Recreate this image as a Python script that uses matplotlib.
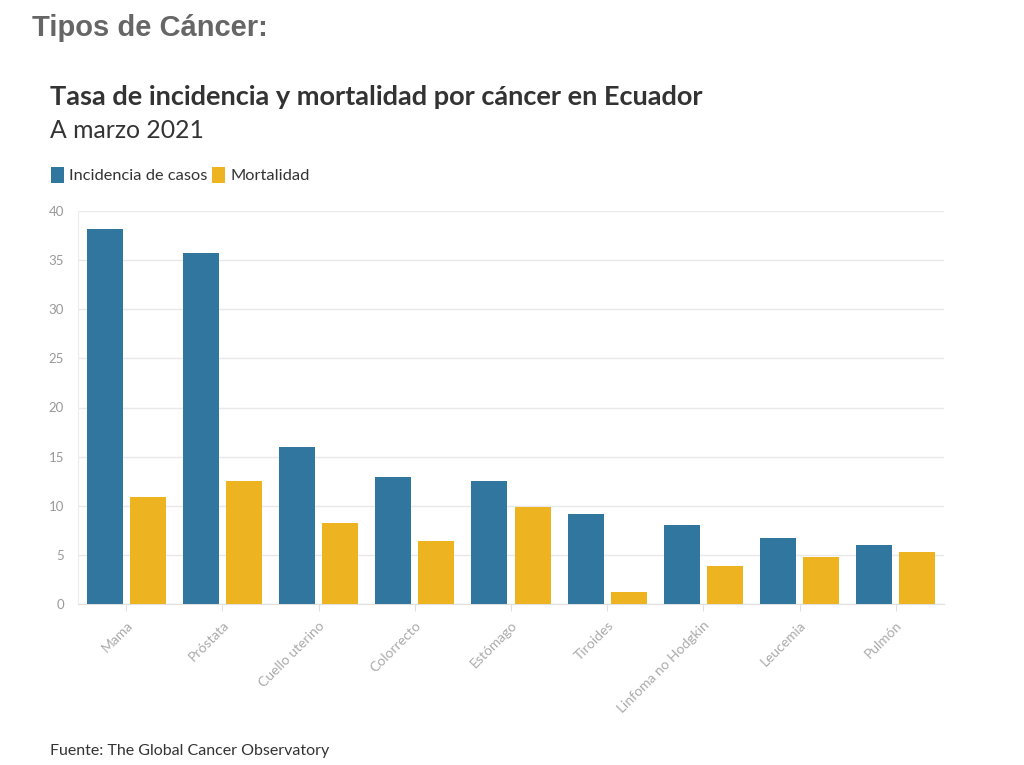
import matplotlib
matplotlib.use("Agg")
import matplotlib.pyplot as plt
import numpy as np

categories = ["Mama", "Próstata", "Cuello uterino", "Colorrecto", "Estómago",
              "Tiroides", "Linfoma no Hodgkin", "Leucemia", "Pulmón"]
incidencia = [38.2, 35.7, 16.0, 12.9, 12.5, 9.2, 8.0, 6.7, 6.0]
mortalidad = [10.9, 12.5, 8.2, 6.4, 9.9, 1.2, 3.9, 4.8, 5.3]
yticks = [0, 5, 10, 15, 20, 25, 30, 35, 40]

BLUE = "#30769F"
YELLOW = "#EDB320"
FONT = "Lato"

fig = plt.figure(figsize=(10.24, 7.65), dpi=100)
W, H = 1024, 765
ax = fig.add_axes([78 / W, 1 - 604 / H, (944 - 78) / W, (604 - 211) / H])

x = np.arange(len(categories))
bw = 0.375
off = 0.224
b1 = ax.bar(x - off, incidencia, bw, color=BLUE, label="Incidencia de casos", zorder=3)
b2 = ax.bar(x + off, mortalidad, bw, color=YELLOW, label="Mortalidad", zorder=3)

ax.set_xlim(-0.5, len(categories) - 0.5)
ax.set_ylim(0, 40)
ax.set_yticks(yticks)
ax.set_yticklabels([str(v) for v in yticks], fontfamily=FONT, fontsize=9.5, color="#999999")
ax.grid(axis="y", color="#e8e8e8", linewidth=1, zorder=0)
ax.set_xticks(x)
ax.set_xticklabels(categories, rotation=45, ha="right", rotation_mode="anchor",
                   fontfamily=FONT, fontsize=10, color="#aaaaaa")
ax.tick_params(axis="x", length=5, color="#e0e0e0", pad=6)
ax.tick_params(axis="y", length=0, pad=10)
for s in ["top", "right"]:
    ax.spines[s].set_visible(False)
ax.spines["left"].set_color("#ececec")
ax.spines["bottom"].set_color("#e0e0e0")

fig.text(32 / W, 1 - 28 / H, "Tipos de Cáncer:", fontfamily="Liberation Sans",
         fontweight="bold", fontsize=21, color="#666666", va="center", ha="left")
fig.text(50 / W, 1 - 97 / H, "Tasa de incidencia y mortalidad por cáncer en Ecuador",
         fontfamily=FONT, fontweight="bold", fontsize=19.5, color="#333333", va="center", ha="left")
fig.text(50 / W, 1 - 130 / H, "A marzo 2021", fontfamily=FONT, fontsize=17.8,
         color="#333333", va="center", ha="left")
fig.text(50 / W, 1 - 751 / H, "Fuente: The Global Cancer Observatory", fontfamily=FONT,
         fontsize=11.5, color="#333333", va="center", ha="left")

leg = fig.legend(handles=[b1, b2], loc="center left", bbox_to_anchor=(36 / W, 1 - 175 / H),
                 ncol=2, frameon=False, handlelength=0.8, handleheight=1.1,
                 handletextpad=0.3, columnspacing=0.3, prop={"family": FONT, "size": 11.8})
for t in leg.get_texts():
    t.set_color("#333333")

fig.savefig("out.png", dpi=100)
